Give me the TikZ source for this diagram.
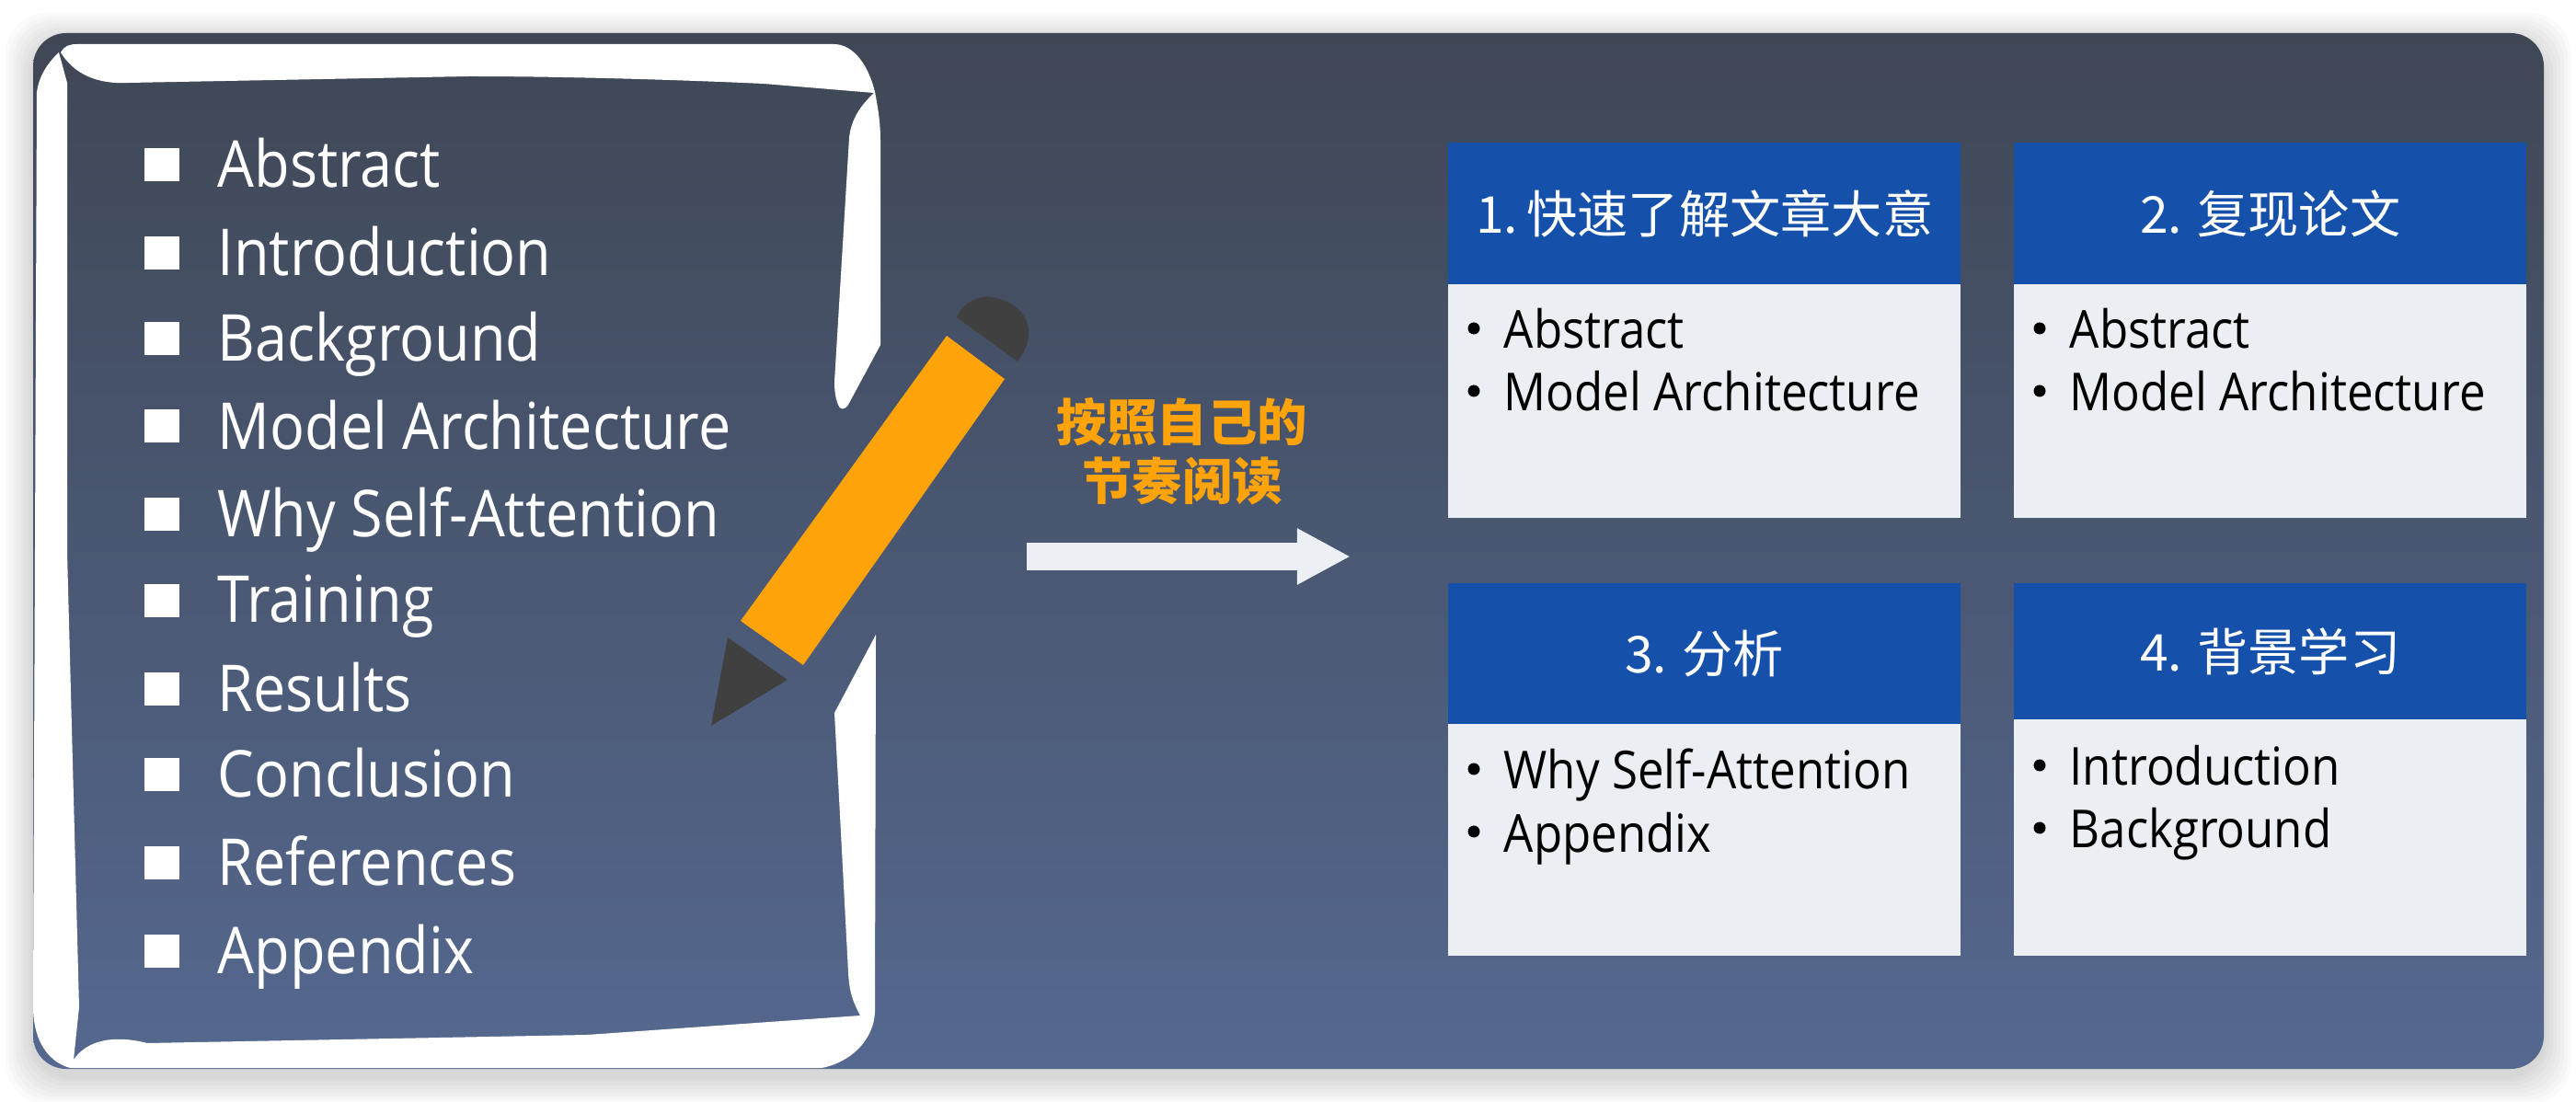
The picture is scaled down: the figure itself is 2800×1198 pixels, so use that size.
\documentclass[tikz,border=0pt]{standalone}
\usepackage{fontspec}
\usetikzlibrary{arrows.meta}
\setmainfont{Open Sans}
\newfontfamily\cjkreg{Noto Sans CJK SC}
\newfontfamily\listfont[FakeStretch=0.895]{Open Sans}
\definecolor{bgtop}{HTML}{3F4755}
\definecolor{bgbot}{HTML}{55688F}
\definecolor{pencilorange}{HTML}{FFA30A}
\definecolor{darkgraphite}{HTML}{404040}
\definecolor{headblue}{HTML}{1550AB}
\definecolor{bodygrey}{HTML}{EBEEF2}
\definecolor{arrowgrey}{HTML}{ECEFF3}
\tikzset{
  x=0.01cm,y=-0.01cm,
  listsq/.style={fill=white,draw=none,minimum width=0.37cm,minimum height=0.36cm,inner sep=0pt,outer sep=0pt,rectangle},
  listtxt/.style={anchor=base west,inner sep=0pt,text=white,font=\listfont\fontsize{20}{24}\selectfont},
  cardhead/.style={fill=headblue,text=white,draw=none,rectangle,inner sep=0pt,outer sep=0pt,minimum width=5.57cm,anchor=north west,align=center,font=\cjkreg\fontsize{15.7}{18}\selectfont},
  cardbody/.style={fill=bodygrey,draw=none,rectangle,inner sep=0pt,outer sep=0pt,minimum width=5.57cm,anchor=north west},
  cardtxt/.style={anchor=base west,inner sep=0pt,text=black,font=\listfont\fontsize{16.2}{20}\selectfont},
  cardbul/.style={fill=black,draw=none,circle,inner sep=0pt,outer sep=0pt,minimum size=0.13cm},
  orangetxt/.style={inner sep=0pt,text=pencilorange,font=\cjkreg\bfseries\fontsize{15.5}{18}\selectfont},
}
\begin{document}
\begin{tikzpicture}
\useasboundingbox (0,0) rectangle (2800,1198);
\fill[white] (0,0) rectangle (2800,1198);
% soft shadow
\foreach \d in {30,26,22,18,14,10,6,3}{
  \fill[black,opacity=0.018,rounded corners=0.45cm] (36-\d,36-\d+8) rectangle (2765+\d,1162+\d+8);
}
% panel
\shade[top color=bgtop,bottom color=bgbot,rounded corners=0.36cm] (36,36) rectangle (2765,1162);
% hand drawn frame, upper part
\fill[white] (66,57) .. controls (70,50) and (75,48) .. (84,48) -- (906,48)
  .. controls (930,48) and (945,75) .. (951,100)
  .. controls (956,125) and (957,140) .. (957,153) -- (957,375) -- (922,440)
  .. controls (918,446) and (913,446) .. (911,440) .. controls (908,432) and (907,425) .. (907,415)
  -- (923,150) .. controls (925,130) and (935,115) .. (950,101)
  -- (830,91) .. controls (720,86) and (600,83) .. (510,83) -- (140,90)
  .. controls (105,92) and (80,80) .. (66,57) -- cycle;
% hand drawn frame, left, bottom, lower right
\fill[white] (64,57) .. controls (50,70) and (42,85) .. (40,100) -- (36,1095)
  .. controls (36,1125) and (48,1153) .. (76,1161) -- (893,1161)
  .. controls (925,1155) and (950,1130) .. (951,1100) -- (952,690)
  -- (907,775) -- (912,867) -- (922,1057) .. controls (923,1075) and (925,1085) .. (935,1104)
  -- (638,1125) -- (160,1134) .. controls (125,1125) and (95,1130) .. (80,1152)
  -- (86,1095) -- (73,600) -- (73,90) -- cycle;
% pencil
\fill[pencilorange] (805,675) -- (1029,365) -- (1092,412) -- (873,723) -- cycle;
\fill[darkgraphite] (791,693) -- (856,739) -- (773,789) -- cycle;
\fill[darkgraphite] (1040,345) .. controls (1045,330) and (1065,320) .. (1078,323)
  .. controls (1105,328) and (1120,345) .. (1118,365) .. controls (1117,375) and (1112,385) .. (1106,393) -- cycle;
% list
\foreach \nm/\sy/\by/\tx in {a/179/204/Abstract,b/275/300/Introduction,c/368/393/Background,d/463/489/Model Architecture,e/559/584/Why Self-Attention,f/653/677/Training,g/749/774/Results,h/842/867/Conclusion,i/938/962/References,j/1034/1058/Appendix}{
  \node[listsq] (sq\nm) at (176,\sy) {};
  \node[listtxt] (li\nm) at (236,\by) {\tx};
}
% reading label and arrow
\node[orangetxt] (lab1) at (1285,459) {按照自己的};
\node[orangetxt] (lab2) at (1285,523) {节奏阅读};
\coordinate (arrs) at (1116,605);
\coordinate (arre) at (1468,605);
\draw[arrowgrey,line width=0.3cm,-{Triangle[length=0.58cm,width=0.57cm]}] (arrs) -- (arre);
% cards
\node[cardbody,minimum height=2.55cm] (b1) at (1574,308) {};
\node[cardbody,minimum height=2.55cm] (b2) at (2189,308) {};
\node[cardbody,minimum height=2.52cm] (b3) at (1574,787) {};
\node[cardbody,minimum height=2.57cm] (b4) at (2189,782) {};
\node[cardhead,minimum height=1.54cm] (h1) at (1574,155) {1.\hspace{-2pt} 快速了解文章大意};
\node[cardhead,minimum height=1.54cm] (h2) at (2189,155) {2. 复现论文};
\node[cardhead,minimum height=1.53cm] (h3) at (1574,634) {3. 分析};
\node[cardhead,minimum height=1.48cm] (h4) at (2189,634) {4. 背景学习};
\foreach \nm/\bx/\tx/\by/\ty in {p/1602/Abstract/379/1634,q/1602/Model Architecture/447/1634,r/2217/Abstract/379/2249,s/2217/Model Architecture/447/2249,t/1602/Why Self-Attention/858/1634,u/1602/Appendix/926/1634,v/2217/Introduction/854/2249,w/2217/Background/922/2249}{
  \pgfmathsetmacro{\buly}{\by-22}
  \node[cardbul] (bu\nm) at (\bx,\buly) {};
  \node[cardtxt] (tx\nm) at (\ty,\by) {\tx};
}
\end{tikzpicture}
\end{document}
